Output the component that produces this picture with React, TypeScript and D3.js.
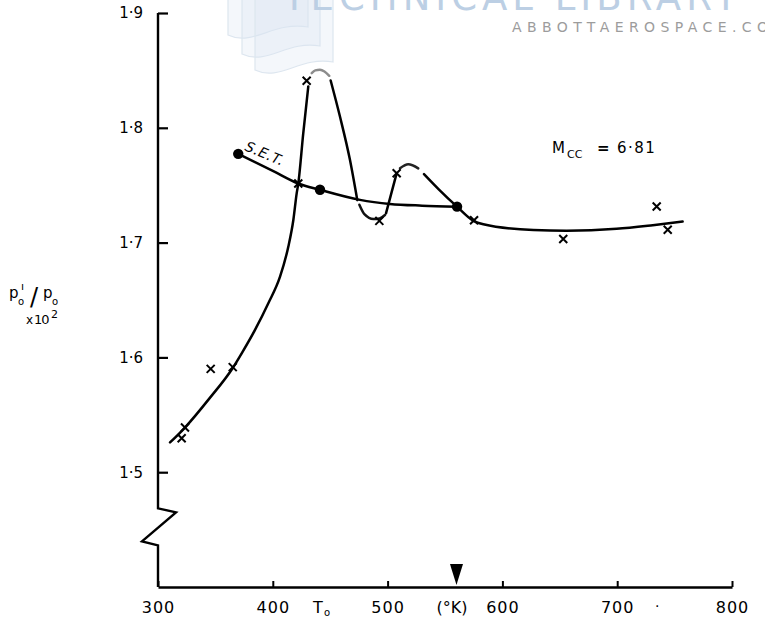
import React, { useEffect, useRef } from 'react';
import * as d3 from 'd3';

// T0 (deg K) and p0'/p0 x 10^2
const xTicks = [300, 400, 500, 600, 700, 800];
const yTicks = [1.5, 1.6, 1.7, 1.8, 1.9];

// measured points (crosses)
const crossT = [320.6, 323.5, 345.9, 365.1, 422.2, 429.5, 492.8, 507.9, 575.3, 653, 734.4, 744];
const crossV = [1.5296, 1.5389, 1.59, 1.5915, 1.7515, 1.841, 1.7189, 1.7604, 1.7194, 1.7031, 1.7315, 1.7112];

// S.E.T. points (filled dots)
const setT = [369.9, 441.1, 560.5];
const setV = [1.7773, 1.746, 1.7313];

// S.E.T. curve
const setCurve: [number, number][] = [
  [369.9, 1.7773], [400, 1.7625], [422.2, 1.7515], [441.1, 1.746],
  [476, 1.7372], [502, 1.7337], [530, 1.7322], [560.5, 1.7313],
];

// experimental curve, drawn in pieces like the original ink
const riseA: [number, number][] = [
  [310.5, 1.5259], [323.5, 1.5389], [345, 1.5645], [365.1, 1.5908], [372.9, 1.6036],
  [384.5, 1.624], [396.1, 1.6472], [406.3, 1.6703], [413.5, 1.6964], [417.9, 1.7197],
  [420.8, 1.7429], [422.2, 1.7515], [426.5, 1.795], [430.9, 1.836],
];
const peakB: [number, number][] = [
  [433.9, 1.8476], [437, 1.85], [441.1, 1.8505], [445, 1.849], [449.2, 1.8453],
];
const fallC: [number, number][] = [
  [450.4, 1.8412], [458.5, 1.8098], [467.2, 1.7721], [473.6, 1.737],
];
const dipD: [number, number][] = [
  [475.4, 1.733], [480, 1.7245], [487.6, 1.7205], [493, 1.721], [497.7, 1.724],
];
const riseE: [number, number][] = [
  [498.6, 1.7255], [503, 1.742], [507.9, 1.7604],
];
const humpF: [number, number][] = [
  [510.8, 1.7647], [518, 1.7682], [526.7, 1.7647],
];
const tailG: [number, number][] = [
  [531.7, 1.7597], [545, 1.746], [560.5, 1.7313], [574.7, 1.719], [583.4, 1.716],
  [627, 1.7109], [656, 1.7103], [699.5, 1.712], [731, 1.7152], [757, 1.7183],
];

const markerT = 560;

export default function App() {
  const ref = useRef<SVGSVGElement>(null);

  useEffect(() => {
    const width = 765, height = 618;
    const svg = d3.select(ref.current).attr('width', width).attr('height', height);
    svg.selectAll('*').remove();

    const font = 'DejaVu Sans, sans-serif';
    const x = d3.scaleLinear().domain([300, 800]).range([158, 732]);
    const y = d3.scaleLinear().domain([1.4, 1.9]).range([587, 13]);

    // watermark
    const wm = svg.append('g');
    const pages = [[228, 308, 43], [242, 320, 62], [255, 333, 78]];
    pages.forEach(([l, r, b]) => {
      wm.append('path')
        .attr('d', `M${l},-5 L${l},${b - 8} C${l + 25},${b + 4} ${l + 45},${b - 22} ${r},${b - 16} L${r},-5`)
        .attr('fill', 'rgba(218,230,243,0.3)')
        .attr('stroke', '#dde6ef')
        .attr('stroke-width', 1.2);
    });
    wm.append('text')
      .attr('x', 283).attr('y', 10)
      .attr('font-family', font).attr('font-size', 37)
      .attr('letter-spacing', 5)
      .attr('fill', '#bccfe4')
      .text('TECHNICAL LIBRARY');
    wm.append('text')
      .attr('x', 512).attr('y', 32)
      .attr('font-family', font).attr('font-size', 14)
      .attr('letter-spacing', 5.4)
      .attr('fill', '#9c9c9c')
      .text('ABBOTTAEROSPACE.COM');

    const fmt = (d: number) => d3.format('.1f')(d).replace('.', '·');

    // x axis
    const xAxis = d3.axisBottom(x).tickValues(xTicks).tickSizeInner(-6).tickSizeOuter(0).tickPadding(15)
      .tickFormat(d => String(d));
    const gx = svg.append('g').attr('transform', `translate(0,${y(1.4)})`).call(xAxis);
    gx.select('.domain').attr('stroke', '#000').attr('stroke-width', 2.4);
    gx.selectAll('.tick line').attr('stroke', '#000').attr('stroke-width', 2);
    gx.selectAll('.tick text').attr('font-family', font).attr('font-size', 16).attr('letter-spacing', 1).attr('fill', '#000');

    // y axis (domain replaced by a broken line)
    const yAxis = d3.axisLeft(y).tickValues(yTicks).tickSizeInner(-10).tickSizeOuter(0).tickPadding(15)
      .tickFormat(d => fmt(d as number));
    const gy = svg.append('g').attr('transform', `translate(${x(300)},0)`).call(yAxis);
    gy.select('.domain').remove();
    gy.selectAll('.tick line').attr('stroke', '#000').attr('stroke-width', 2.2);
    gy.selectAll('.tick text').attr('font-family', font).attr('font-size', 15).attr('fill', '#000');

    const x0 = x(300);
    const yb = y(1.4685);
    svg.append('path')
      .attr('d', `M${x0},${y(1.9)} L${x0},${yb} L${x0 + 18},${yb + 4} L${x0 - 16},${yb + 33} L${x0},${yb + 37} L${x0},${y(1.4)}`)
      .attr('fill', 'none').attr('stroke', '#000').attr('stroke-width', 2.4).attr('stroke-linejoin', 'miter');

    // axis titles
    svg.append('text').attr('x', 313).attr('y', 613).attr('font-family', font).attr('font-size', 16).text('T');
    svg.append('text').attr('x', 324).attr('y', 616).attr('font-family', font).attr('font-size', 10).text('o');
    svg.append('text').attr('x', 452).attr('y', 613).attr('text-anchor', 'middle')
      .attr('font-family', font).attr('font-size', 16).text('(°K)');
    svg.append('text').attr('x', 655).attr('y', 611).attr('font-family', font).attr('font-size', 14).text('·');

    const yl = svg.append('g').attr('font-family', font).attr('fill', '#000');
    yl.append('text').attr('x', 9).attr('y', 298).attr('font-size', 15).text('p');
    yl.append('text').attr('x', 18).attr('y', 305).attr('font-size', 10).text('o');
    yl.append('text').attr('x', 21).attr('y', 290).attr('font-size', 11).text('ı');
    yl.append('text').attr('x', 30).attr('y', 305).attr('font-size', 24).text('/');
    yl.append('text').attr('x', 43).attr('y', 298).attr('font-size', 15).text('p');
    yl.append('text').attr('x', 52).attr('y', 305).attr('font-size', 10).text('o');
    yl.append('text').attr('x', 26).attr('y', 324).attr('font-size', 12).text('x');
    yl.append('text').attr('x', 34).attr('y', 324).attr('font-size', 13).attr('letter-spacing', -1).text('10');
    yl.append('text').attr('x', 51).attr('y', 318).attr('font-size', 11).text('2');

    // M_cc label
    const ml = svg.append('g').attr('font-family', font).attr('fill', '#000');
    ml.append('text').attr('x', 552).attr('y', 153).attr('font-size', 15).text('M');
    ml.append('text').attr('x', 567).attr('y', 158).attr('font-size', 11).text('CC');
    ml.append('text').attr('x', 597).attr('y', 153).attr('font-size', 15).attr('font-weight', 'bold').text('=');
    ml.append('text').attr('x', 617).attr('y', 153).attr('font-size', 15).attr('letter-spacing', 1.5).text('6·81');

    // curves
    const line = d3.line<[number, number]>()
      .x(d => x(d[0])).y(d => y(d[1]))
      .curve(d3.curveMonotoneX);

    const pieces: [[number, number][], string][] = [
      [setCurve, '#000'], [riseA, '#000'], [peakB, '#8c8c8c'], [fallC, '#000'],
      [dipD, '#111'], [riseE, '#000'], [humpF, '#222'], [tailG, '#000'],
    ];
    svg.append('g').selectAll('path')
      .data(pieces)
      .enter()
      .append('path')
      .attr('d', d => line(d[0]))
      .attr('fill', 'none')
      .attr('stroke', d => d[1])
      .attr('stroke-width', 2.5)
      .attr('stroke-linecap', 'round');

    // crosses
    const cs = 4;
    const crosses = svg.append('g').selectAll('g')
      .data(crossT.map((t, i) => [t, crossV[i]]))
      .enter()
      .append('g')
      .attr('transform', d => `translate(${x(d[0])},${y(d[1])})`);
    crosses.append('path')
      .attr('d', `M${-cs},${-cs}L${cs},${cs}M${-cs},${cs}L${cs},${-cs}`)
      .attr('stroke', '#000').attr('stroke-width', 2);

    // S.E.T. dots
    svg.append('g').selectAll('circle')
      .data(setT.map((t, i) => [t, setV[i]]))
      .enter()
      .append('circle')
      .attr('cx', d => x(d[0])).attr('cy', d => y(d[1]))
      .attr('r', 5.2).attr('fill', '#000');

    svg.append('text')
      .attr('transform', `translate(244,150) rotate(23)`)
      .attr('font-family', font).attr('font-size', 14).attr('font-style', 'italic')
      .attr('letter-spacing', 0.5)
      .text('S.E.T.');

    // arrow marker on the T axis
    const mx = x(markerT), my = y(1.4);
    svg.append('path')
      .attr('d', `M${mx - 6.5},${my - 23} L${mx + 6.5},${my - 23} L${mx},${my - 2} Z`)
      .attr('fill', '#000');
  }, []);

  return (
    <div style={{ position: 'absolute', left: 0, top: 0 }}>
      <svg ref={ref} style={{ display: 'block', background: '#fff' }} />
    </div>
  );
}
